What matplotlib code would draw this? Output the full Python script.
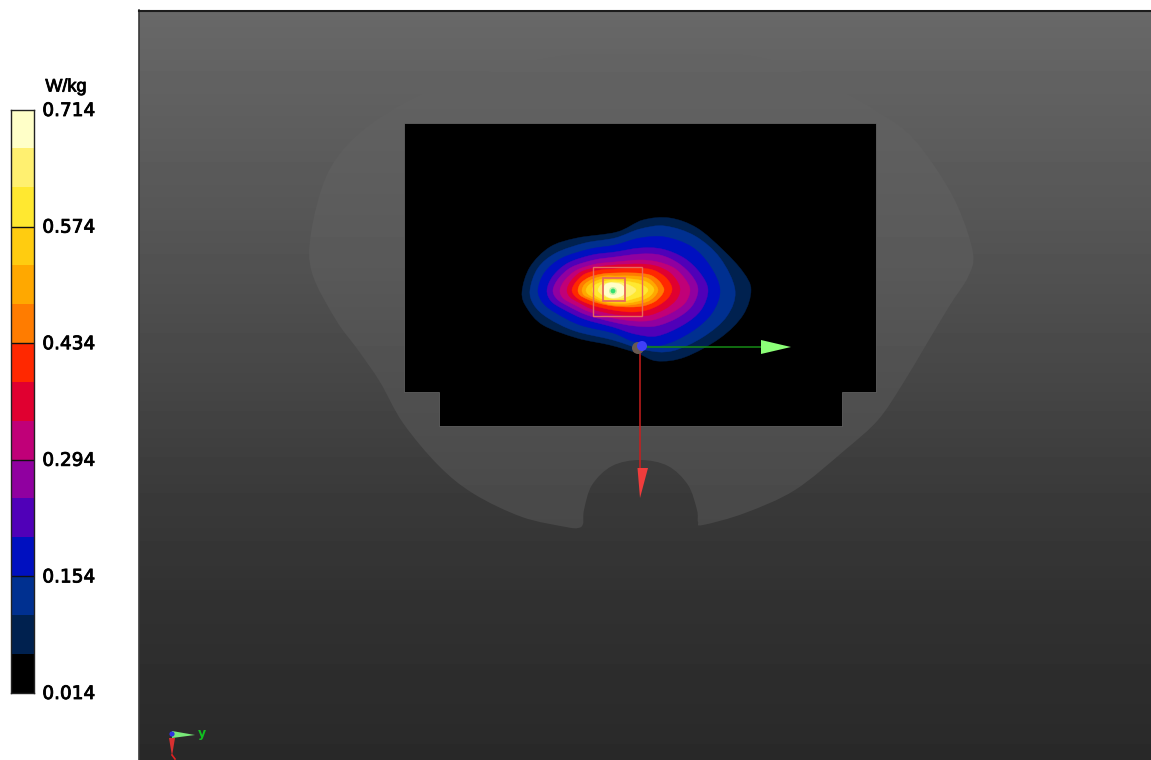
import numpy as np
import matplotlib
matplotlib.use("Agg")
import matplotlib.pyplot as plt
import matplotlib.patheffects as pe
from matplotlib.path import Path
from matplotlib.patches import PathPatch, Polygon, Rectangle, Circle
from matplotlib.colors import ListedColormap, BoundaryNorm
from matplotlib.transforms import ScaledTranslation

# ---------- colour scale ----------
unit = "W/kg"
tick_values = [0.714, 0.574, 0.434, 0.294, 0.154, 0.014]
tick_labels = ["0.714", "0.574", "0.434", "0.294", "0.154", "0.014"]
band_edges = [0.014, 0.061, 0.108, 0.154, 0.201, 0.248, 0.294, 0.341,
              0.388, 0.434, 0.481, 0.528, 0.574, 0.621, 0.668, 0.714]
band_colors = ["#000000", "#00214f", "#003090", "#0010c0", "#5000b8",
               "#9000a0", "#c00078", "#e00030", "#ff2800", "#ff7c00",
               "#ffa800", "#ffcc10", "#ffe830", "#fff070", "#ffffc8"]

# ---------- contour outlines, one per band above black (image pixels) ----------
contours = [
    [(522,292),(530,267),(550,247),(577,238),(617,232),(643,220),(670,218),(697,228),(723,250),(743,272),(751,290),(743,315),(720,338),(685,357),(657,361),(637,353),(610,345),(577,338),(543,325),(527,308)],
    [(530,290),(538,268),(556,253),(585,243),(615,238),(640,229),(665,226),(695,236),(720,258),(735,290),(727,316),(703,337),(672,351),(645,350),(613,340),(575,331),(548,318),(534,305)],
    [(538,290),(545,272),(562,258),(590,249),(615,245),(640,238),(665,237),(692,247),(710,266),(720,290),(712,313),(691,332),(662,345),(635,342),(613,333),(580,325),(556,313),(543,303)],
    [(547,290),(553,276),(568,263),(592,255),(615,252),(640,248),(662,249),(684,258),(700,273),(708,290),(701,310),(683,325),(657,336),(635,334),(613,327),(584,319),(563,309),(551,301)],
    [(553,290),(559,278),(572,267),(594,260),(615,257),(640,254),(660,255),(678,263),(692,276),(698,290),(692,306),(677,318),(656,326),(635,326),(613,322),(587,315),(568,306),(557,299)],
    [(560,290),(565,280),(577,270),(596,264),(615,262),(640,260),(658,262),(674,268),(685,279),(690,290),(685,303),(671,313),(653,320),(635,321),(613,318),(590,312),(573,304),(563,298)],
    [(567,290),(571,281),(581,272),(598,267),(615,265),(640,264),(656,266),(669,272),(677,281),(680,290),(676,300),(665,309),(650,315),(635,316),(613,314),(592,309),(578,302),(570,297)],
    [(572,290),(576,282),(585,274),(600,270),(615,269),(638,268),(653,270),(664,276),(670,283),(672,290),(668,298),(659,305),(647,310),(632,312),(613,310),(595,306),(582,301),(575,296)],
    [(578,290),(581,283),(590,277),(602,274),(615,273),(636,273),(650,275),(658,280),(662,285),(664,290),(661,296),(654,302),(643,306),(630,307),(613,306),(598,303),(587,299),(580,295)],
    [(582,290),(585,284),(593,279),(604,276),(615,276),(634,276),(647,278),(654,283),(658,290),(654,297),(646,302),(630,305),(613,305),(600,302),(590,298),(584,295)],
    [(586,290),(589,285),(596,281),(606,278),(616,278),(632,279),(644,281),(651,285),(654,290),(650,296),(642,300),(628,303),(613,303),(602,301),(593,297),(588,294)],
    [(592,290),(595,285),(602,282),(612,280),(624,281),(636,283),(644,286),(648,290),(644,295),(636,298),(624,301),(612,301),(602,299),(595,295)],
    [(598,290),(601,285),(607,283),(614,282),(623,283),(631,286),(636,290),(631,295),(623,298),(614,299),(606,297),(601,294)],
    [(603,290),(605,285),(609,283),(614,283),(620,284),(624,287),(625,291),(623,295),(619,297),(613,298),(608,297),(604,294)],
]

# ---------- scene outlines ----------
body_outline = [(640,52),(570,55),(506,67),(439,87),(392,110),(352,140),(326,177),(311,233),(312,273),(336,320),
                (358,350),(380,382),(403,423),(439,466),(474,494),(522,517),(566,527),(578,528),(583,524),(584,510),
                (592,485),(612,466),(640,460),(668,466),(688,485),(697,510),(698,522),(703,525),(745,513),(795,490),
                (845,450),(878,420),(902,385),(926,345),(950,305),(968,277),(973,253),(958,207),(935,167),
                (908,133),(875,110),(845,93),(778,62),(710,52)]
phantom_cut = [(404,123),(876,123),(876,392),(842,392),(842,426),(439,426),(439,392),(404,392)]
scene_y = [11, 100, 250, 380, 500, 600, 760]
scene_gray = [104, 96, 83, 70, 57, 49, 41]
body_y = [11, 100, 250, 380, 430, 530]
body_gray = [102, 97, 90, 80, 78, 72]
outer_box = (593, 267, 642, 316)
inner_box = (603, 278, 625, 301)
peak = (613, 291)
origin = (640, 346)


def closed_spline(pts):
    p = np.asarray(pts, float)
    n = len(p)
    verts, codes = [p[0]], [Path.MOVETO]
    for i in range(n):
        p0, p1, p2, p3 = p[(i-1) % n], p[i], p[(i+1) % n], p[(i+2) % n]
        verts += [p1 + (p2-p0)/6, p2 - (p3-p1)/6, p2]
        codes += [Path.CURVE4]*3
    return Path(verts, codes)


W, H = 1151, 760
fig = plt.figure(figsize=(W/100, H/100), dpi=100, facecolor="white")
ax = fig.add_axes([0, 0, 1, 1])
ax.axis("off")

ys = np.arange(11, 760)
bg = np.interp(ys, scene_y, scene_gray)[:, None]
ax.imshow(bg, extent=(139, W, 760, 11), cmap="gray", vmin=0, vmax=255,
          aspect="auto", zorder=1, interpolation="nearest")
ax.plot([139, 139], [10, 760], color="#3a3a3a", lw=1.2, zorder=2)
ax.plot([139, W], [10.5, 10.5], color="#1c1c1c", lw=1.5, zorder=2)

body_img = ax.imshow(np.interp(ys, body_y, body_gray)[:, None],
                     extent=(139, W, 760, 11), cmap="gray", vmin=0, vmax=255,
                     aspect="auto", zorder=2, interpolation="nearest")
body_patch = PathPatch(closed_spline(body_outline), fc="none", ec="none", transform=ax.transData)
ax.add_patch(body_patch)
body_img.set_clip_path(body_patch)
ax.set_xlim(0, W)
ax.set_ylim(H, 0)

ax.add_patch(Polygon(phantom_cut, closed=True, fc="black", ec="#6a6a6a", lw=0.5, zorder=3))
for outline, color in zip(contours, band_colors[1:]):
    ax.add_patch(PathPatch(closed_spline(outline), fc=color, ec=color, lw=0.3, zorder=4))

for (x0, y0, x1, y1), lw in ((outer_box, 1.0), (inner_box, 1.3)):
    ax.add_patch(Rectangle((x0, y0), x1-x0, y1-y0, fc="none", ec="#e8685c", lw=lw, zorder=5))
ax.add_patch(Circle(peak, 4.0, fc="#a8ee90", ec="none", alpha=0.6, zorder=6))
ax.add_patch(Circle(peak, 2.4, fc="#35e070", ec="none", zorder=6))

# large axes triad
ax.plot([origin[0], 762], [347, 347], color="#168a16", lw=1.1, zorder=6)
ax.add_patch(Polygon([(761, 340), (791, 347), (761, 354)], fc="#8cff78", ec="none", zorder=7))
ax.plot([640, 640], [350, 470], color="#c81e1e", lw=1.1, zorder=6)
ax.add_patch(Polygon([(637.5, 468), (648, 468), (640, 498)], fc="#f03c3c", ec="none", zorder=7))
ax.add_patch(Circle((638, 348), 6, fc="#6a5a50", ec="none", zorder=8))
ax.add_patch(Circle((642, 346), 5, fc="#4040f8", ec="none", zorder=8))

# small axes triad
ax.add_patch(Polygon([(172, 731), (195, 735), (172, 738)], fc="#78e878", ec="none", zorder=7))
ax.add_patch(Polygon([(169, 738), (175, 738), (172, 756)], fc="#d83030", ec="none", zorder=7))
ax.plot([172, 175], [755, 759], color="#e02020", lw=1.2, zorder=7)
ax.add_patch(Circle((172, 734), 2.6, fc="#3030e0", ec="none", zorder=8))
ax.text(202, 733, "y", color="#10c020", fontsize=9, fontweight="bold",
        ha="center", va="center", zorder=8)

# colour bar
cax = fig.add_axes([11/W, 1-693/H, 23/W, (693-110)/H])
cmap = ListedColormap(band_colors)
norm = BoundaryNorm(band_edges, cmap.N)
cax.pcolormesh([0, 1], band_edges, np.array(band_edges[:-1])[:, None] + 1e-4,
               cmap=cmap, norm=norm, shading="flat")
cax.set_xlim(0, 1)
cax.set_ylim(0.014, 0.714)
cax.set_xticks([])
cax.yaxis.tick_right()
cax.set_yticks(tick_values)
cax.set_yticklabels(tick_labels, fontsize=13.3, color="#000000", family="DejaVu Sans")
cax.tick_params(axis="y", length=0, pad=6)
bolder = [pe.withStroke(linewidth=0.6, foreground="#000000")]
shift = ScaledTranslation(0, 1.0/100, fig.dpi_scale_trans)
for lab in cax.get_yticklabels():
    lab.set_path_effects(bolder)
    lab.set_transform(lab.get_transform() + shift)
for v in tick_values[1:-1]:
    cax.axhline(v, color="#111111", lw=1.0)
for s in cax.spines.values():
    s.set_color("#222222")
    s.set_linewidth(1.0)
fig.text(66/W, 1-87/H, unit, fontsize=13, ha="center", va="center", color="#000000",
         family="Liberation Sans", path_effects=bolder)

fig.savefig("out.png", dpi=100)
